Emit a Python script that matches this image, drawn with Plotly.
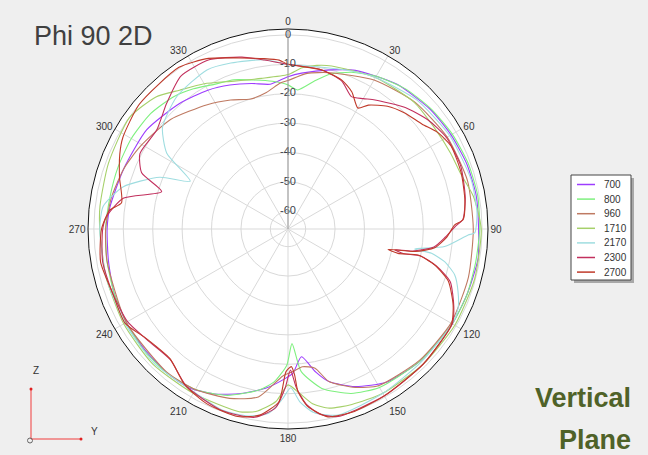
import plotly.graph_objects as go

# ---------------- data (angle in degrees, gain in dB) ----------------
SERIES_NAMES = ["700", "800", "960", "1710", "2170", "2300", "2700"]

THETA_700 = [0, 5, 15, 23, 37, 50, 60, 70, 80, 90, 99, 110, 120, 135, 147, 157, 165, 169, 174, 178,
             181, 188, 196, 204, 212, 220, 230, 240, 250, 260, 270, 277, 290, 305, 319, 330, 338, 346, 353, 360]
DB_700 = [-14.2, -12.8, -10, -7.4, -4.4, -2.8, -2, -1.3, -1, -1.2, -0.6, -1.2, -1.5, -2.5, -4, -7.8, -12.3, -16.4, -22.3, -17,
          -15.2, -11.3, -7.8, -4.6, -2.4, -2, -2.3, -2.5, -3, -4, -4.5, -5, -6.5, -7.3, -9.6, -11.5, -13.2, -15, -16.4, -14.2]

THETA_800 = [0, 4, 10, 15, 22, 30, 40, 50, 60, 70, 80, 90, 100, 110, 120, 135, 150, 159, 168, 174.7, 178,
             180.5, 185, 190, 200, 210, 220, 230, 240, 250, 260, 270, 280, 290, 300, 310, 319, 326, 333, 340, 347, 354, 360]
DB_800 = [-17, -18.6, -15, -11.5, -8.5, -6, -3.8, -2.5, -1.5, -0.8, -0.5, -0.8, -1.2, -1.2, -1.5, -2.5, -3.8, -6.1, -10.6, -17.3, -27,
          -19.7, -14, -10.5, -5.8, -3, -2, -2, -2.5, -3, -3.5, -4, -4.5, -4.5, -4.5, -5, -6.5, -8.5, -10.8, -12, -14, -15.5, -17]

THETA_960 = [0, 7, 15, 30, 45, 60, 75, 90, 105, 120, 135, 150, 157, 165, 169, 174, 178, 182, 190, 199,
             210, 220, 240, 260, 270, 280, 290, 299, 313, 327, 336, 344, 351, 357, 360]
DB_960 = [-15.5, -12.7, -11, -7.5, -5, -3.5, -2.8, -3, -2.5, -2, -2.8, -4.5, -7.5, -12.3, -17.8, -18.9, -17.5, -16, -8, -5.1,
          -3, -2.2, -2.5, -3.5, -4, -5, -6.5, -8.4, -11.4, -15.6, -18, -20, -19, -16.3, -15.5]

THETA_1710 = [0, 5, 10, 15, 30, 45, 55, 65, 72, 80, 90, 105, 120, 135, 150, 160, 167, 172, 176, 180,
              184, 190, 195, 210, 225, 240, 255, 270, 277, 290, 305, 315, 322, 330, 340, 350, 360]
DB_1710 = [-13.5, -11, -9.5, -8.6, -6.5, -5.2, -5.5, -5, -4.4, -2, -0.3, -0.3, -0.5, -1, -1.5, -2.5, -3.5, -6, -10, -13,
           -7.2, -3, -1.7, -1.5, -1, -1.5, -2, -2, -1.6, -1, -0.1, -2.5, -6.1, -9, -12.5, -14, -13.5]

THETA_2170 = [0, 10, 20, 30, 45, 60, 75, 85, 91.2, 91.9, 96.4, 99, 99.6, 101.8, 105.4, 110.2, 115, 120, 135, 150,
              165, 172, 176, 179, 182, 186, 192, 200, 210, 225, 240, 255, 270, 277, 284.4, 292, 296, 302, 309, 320,
              333, 341, 352, 360]
DB_2170 = [-10, -10, -8.5, -6.5, -4, -2.5, -1.5, -1.5, -2.5, -4.7, -12.4, -22.4, -16.5, -11.6, -7.2, -4.4, -2.2, -1.5, -2, -1.5,
           -0.5, -3, -7, -12, -8, -3, -1, -0.5, -2, -1.5, -2, -2, -2, -2.7, -8.2, -19, -29, -17.4, -11.1, -7.2,
           -5.3, -6.3, -7.9, -10]

THETA_2300 = [0, 12, 20, 25.6, 30, 34, 44, 52, 60, 70, 80, 87, 89, 93, 97, 100, 101, 102, 101.5, 104,
              108, 115, 120, 135, 150, 165, 170, 174, 177, 179, 181, 184, 190, 200, 213, 222, 232, 240, 250, 260,
              270, 274, 280.6, 286.5, 291, 297, 307, 316, 325, 335, 345, 352, 360]
DB_2300 = [-10, -10.7, -12.5, -16.1, -14.8, -13.1, -8.6, -5.7, -3.8, -3.5, -4.8, -6.5, -9, -12.5, -16, -23, -29, -26, -20, -14,
           -8, -3.8, -1.5, -1, -0.5, 0, -2, -6, -12, -18, -12, -5, -1, -0.3, -2.4, -6.2, -5, -3, -2.5, -2,
           -3, -4.2, -9, -21.2, -12.7, -9.5, -10.1, -6.6, -2.5, -2.5, -5.5, -8, -10]

THETA_2700 = [0, 12, 20, 25, 30, 33, 39, 45, 52, 57, 63, 72, 81, 87, 88.6, 93, 97.3, 100, 101.5, 102.5,
              101.3, 103.8, 108, 114.7, 120.4, 135, 150, 160, 168, 173.6, 176.5, 177.4, 178.6, 180.8, 183, 188.6, 195, 205,
              213.4, 222.4, 232, 240, 250, 260, 270, 276, 279, 287, 294, 299, 310, 326, 335, 344, 352, 357, 360]
DB_2700 = [-10, -10.7, -12.2, -14.6, -18.5, -15.8, -12.3, -10.1, -8.1, -5.5, -3.8, -4.1, -5.1, -6.4, -9.3, -12, -15.7, -22, -31.3, -27.7,
           -20.9, -14.6, -8.7, -4.2, -1.6, -1, -0.5, 0, -0.7, -5.2, -10.6, -16.3, -19.2, -17.5, -7.2, -2, 0, -0.5,
           -2.4, -6.4, -5.2, -2, -2.5, -1.3, -2.6, -5, -8.7, -6.1, -3.4, -1.8, 0, 0.3, -2, -5.5, -7.5, -8.5, -10]

RADIAL_TICKS = [-60, -50, -40, -30, -20, -10, 0]
ANGLE_TICKS = list(range(0, 360, 30))

# ---------------- styling ----------------
COLORS = ["#9d3cff", "#7ff07f", "#bf7a62", "#a6d06a", "#9fdde0", "#c2305e", "#c03a2a"]
FONT = "Liberation Sans, Arial, sans-serif"
W, H = 648, 455
CX, CY, R = 288, 229, 200


def px(x):
    return x / W


def py(y):
    return 1 - y / H


data = [
    (THETA_700, DB_700), (THETA_800, DB_800), (THETA_960, DB_960), (THETA_1710, DB_1710),
    (THETA_2170, DB_2170), (THETA_2300, DB_2300), (THETA_2700, DB_2700),
]

fig = go.Figure()
for name, color, (th, db) in zip(SERIES_NAMES, COLORS, data):
    fig.add_trace(go.Scatterpolar(
        theta=th, r=db, name=name, mode="lines",
        line=dict(color=color, width=1.1, shape="spline", smoothing=0.6),
        hoverinfo="skip", showlegend=False,
    ))

# radial tick labels drawn centred on the 0° spoke
fig.add_trace(go.Scatterpolar(
    theta=[0] * len(RADIAL_TICKS), r=RADIAL_TICKS,
    text=[str(v) for v in RADIAL_TICKS], mode="text",
    textfont=dict(family=FONT, size=11, color="#3a3f4a"),
    showlegend=False, hoverinfo="skip", cliponaxis=False,
))

fig.update_layout(
    width=W, height=H,
    margin=dict(l=0, r=0, t=0, b=0),
    paper_bgcolor="#efefef",
    font=dict(family=FONT, color="#333333"),
    showlegend=False,
    polar=dict(
        domain=dict(x=[px(CX - R), px(CX + R)], y=[py(CY + R), py(CY - R)]),
        bgcolor="white",
        angularaxis=dict(
            rotation=90, direction="clockwise",
            tickvals=ANGLE_TICKS, ticktext=[str(a) for a in ANGLE_TICKS],
            tickfont=dict(size=10, color="#333333"),
            showline=True, linecolor="#111111", linewidth=1,
            gridcolor="#d9d9d9", gridwidth=1, ticks="",
        ),
        radialaxis=dict(
            range=[-66, 2], tickvals=RADIAL_TICKS, showticklabels=False,
            angle=90, showline=True, linecolor="#9a9a9a", linewidth=1,
            gridcolor="#d9d9d9", gridwidth=1, ticks="",
        ),
    ),
)

# ---------------- legend box (compact, like the reference) ----------------
LEG_X0, LEG_X1, LEG_Y0, LEG_Y1 = 571, 631, 175, 280
LEG_ROW0, LEG_DY = 184.5, 14.6
fig.add_shape(type="rect", xref="paper", yref="paper", layer="above",
              x0=px(LEG_X0 + 3), x1=px(LEG_X1 + 3), y0=py(LEG_Y1 + 3), y1=py(LEG_Y0 + 3),
              fillcolor="#a8a8a8", line=dict(width=0))
fig.add_shape(type="rect", xref="paper", yref="paper", layer="above",
              x0=px(LEG_X0), x1=px(LEG_X1), y0=py(LEG_Y1), y1=py(LEG_Y0),
              fillcolor="white", line=dict(color="#444444", width=1))
for i, (name, color) in enumerate(zip(SERIES_NAMES, COLORS)):
    yy = LEG_ROW0 + i * LEG_DY
    fig.add_shape(type="line", xref="paper", yref="paper", layer="above",
                  x0=px(577), x1=px(595), y0=py(yy), y1=py(yy),
                  line=dict(color=color, width=1.5))
    fig.add_annotation(x=px(602), y=py(yy), xref="paper", yref="paper", xanchor="left", yanchor="middle",
                       text=name, showarrow=False, font=dict(family=FONT, size=10, color="#333333"))

# ---------------- title and side label ----------------
fig.add_annotation(x=px(32), y=py(36), xref="paper", yref="paper", xanchor="left", yanchor="middle",
                   text="Phi 90 2D", showarrow=False,
                   font=dict(family=FONT, size=27, color="#404040"))
fig.add_annotation(x=px(633), y=py(398), xref="paper", yref="paper", xanchor="right", yanchor="middle",
                   text="<b>Vertical</b>", showarrow=False,
                   font=dict(family=FONT, size=27, color="#4f6228"))
fig.add_annotation(x=px(633), y=py(440), xref="paper", yref="paper", xanchor="right", yanchor="middle",
                   text="<b>Plane</b>", showarrow=False,
                   font=dict(family=FONT, size=27, color="#4f6228"))

# ---------------- little Z / Y orientation glyph ----------------
fig.add_shape(type="line", xref="paper", yref="paper", x0=px(31), y0=py(439), x1=px(31), y1=py(389),
              line=dict(color="#f07878", width=1.5))
fig.add_shape(type="line", xref="paper", yref="paper", x0=px(31), y0=py(439), x1=px(81), y1=py(439),
              line=dict(color="#f07878", width=1.5))
for (dx, dy) in [(31, 389), (81, 439)]:
    fig.add_shape(type="circle", xref="paper", yref="paper", x0=px(dx - 1.5), x1=px(dx + 1.5),
                  y0=py(dy + 1.5), y1=py(dy - 1.5), fillcolor="#e02020", line=dict(width=0))
fig.add_shape(type="circle", xref="paper", yref="paper", x0=px(27.5), x1=px(32.5),
              y0=py(443), y1=py(438), fillcolor="rgba(0,0,0,0)", line=dict(color="#666666", width=1))
fig.add_annotation(x=px(31), y=py(378), xref="paper", yref="paper", text="Z", showarrow=False,
                   font=dict(family=FONT, size=10, color="#333333"))
fig.add_annotation(x=px(89), y=py(439), xref="paper", yref="paper", text="Y", showarrow=False,
                   font=dict(family=FONT, size=10, color="#333333"))

fig.write_html(
    "out.html",
    config={"displayModeBar": False},
    post_script="document.body.style.margin='0';document.body.style.overflow='hidden';",
)
